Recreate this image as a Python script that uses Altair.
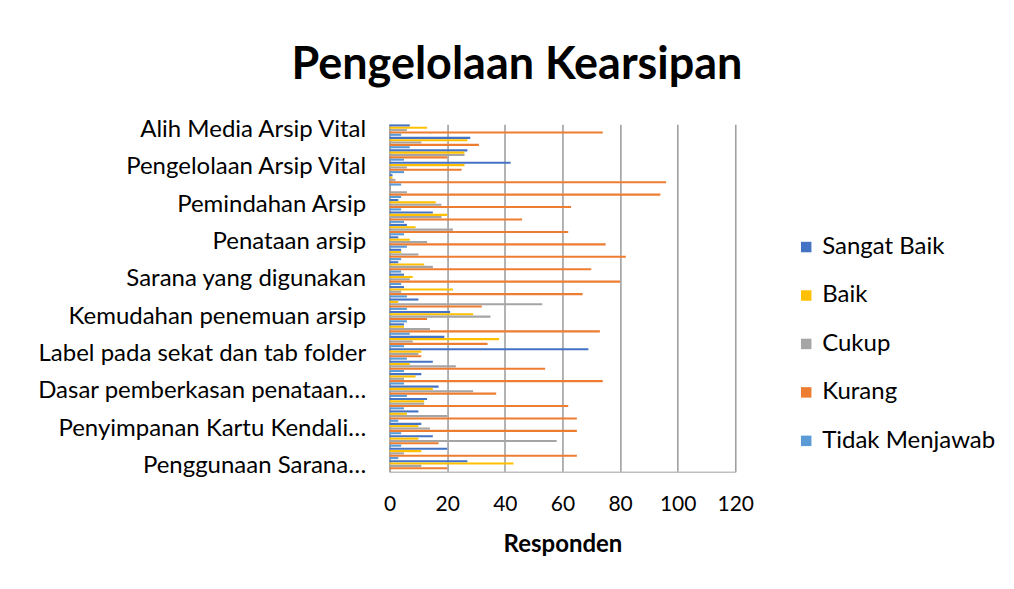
import json
import altair as alt
import pandas as pd

# categories top-to-bottom (only every third is labelled in the reference)
labels = [
    "Alih Media Arsip Vital", "", "",
    "Pengelolaan Arsip Vital", "", "",
    "Pemindahan Arsip", "", "",
    "Penataan arsip", "", "",
    "Sarana yang digunakan ", "", "",
    "Kemudahan penemuan arsip", "", "",
    "Label pada sekat dan tab folder", "", "",
    "Dasar pemberkasan penataan…", "", "",
    "Penyimpanan Kartu Kendali…", "", "",
    "Penggunaan Sarana…",
]

series = ["Sangat Baik", "Baik", "Cukup", "Kurang", "Tidak Menjawab"]
colors = ["#4472C4", "#FFC000", "#A5A5A5", "#ED7D31", "#5B9BD5"]

sangat_baik = [7, 28, 27, 42, 1, 0, 3, 15, 6, 3, 4, 3, 5, 5, 10, 21, 5, 19, 69, 15, 11, 17, 13, 10, 11, 15, 20, 27]
baik = [13, 27, 26, 26, 1, 0, 16, 20, 9, 7, 4, 12, 8, 22, 3, 29, 5, 38, 11, 7, 9, 15, 12, 6, 10, 10, 11, 43]
cukup = [6, 11, 26, 6, 2, 6, 18, 18, 22, 13, 10, 15, 7, 4, 53, 35, 14, 8, 10, 23, 5, 29, 12, 20, 14, 58, 5, 11]
kurang = [74, 31, 20, 25, 96, 94, 63, 46, 62, 75, 82, 70, 80, 67, 32, 13, 73, 34, 11, 54, 74, 37, 62, 65, 65, 17, 65, 20]
tidak_menjawab = [4, 7, 5, 5, 4, 4, 4, 5, 5, 6, 4, 4, 4, 6, 6, 6, 7, 5, 6, 5, 5, 6, 5, 3, 4, 4, 3, 0]

values = [sangat_baik, baik, cukup, kurang, tidak_menjawab]
rows = []
for s, vals in zip(series, values):
    for i, v in enumerate(vals):
        rows.append({"idx": i, "series": s, "value": v})
df = pd.DataFrame(rows)

label_expr = json.dumps(labels, ensure_ascii=False) + "[datum.value]"

FONT = "Lato"

chart = alt.Chart(df).mark_bar().encode(
    x=alt.X(
        "value:Q",
        scale=alt.Scale(domain=[0, 120], nice=False),
        axis=alt.Axis(
            values=[0, 20, 40, 60, 80, 100, 120],
            title="Responden",
            titleFontSize=24,
            titleFontWeight="bold",
            titlePadding=18,
            labelFontSize=21,
            labelPadding=22,
            labelFlush=False,
            ticks=False,
            grid=True,
            gridColor="#A0A0A0",
            gridWidth=1.6,
            domainColor="#BFBFBF",
            domainWidth=1.5,
            labelColor="#000000",
            titleColor="#000000",
        ),
    ),
    y=alt.Y(
        "idx:O",
        scale=alt.Scale(paddingInner=0.08, paddingOuter=0.02),
        axis=alt.Axis(
            title=None,
            labelExpr=label_expr,
            labelFontSize=24,
            labelPadding=24,
            labelLimit=500,
            minExtent=364,
            maxExtent=364,
            ticks=False,
            domainColor="#A0A0A0",
            domainWidth=1.5,
            labelColor="#000000",
        ),
    ),
    yOffset=alt.YOffset("series:N", sort=series, scale=alt.Scale(paddingInner=0.1)),
    color=alt.Color(
        "series:N",
        sort=series,
        scale=alt.Scale(domain=series, range=colors),
        legend=alt.Legend(
            title=None,
            orient="none",
            legendX=405,
            legendY=111,
            labelFontSize=24,
            labelLimit=400,
            symbolType="square",
            symbolSize=110,
            symbolStrokeWidth=0,
            rowPadding=24.5,
            labelColor="#000000",
        ),
    ),
).properties(
    width=346,
    height=348,
    title=alt.TitleParams(
        "Pengelolaan Kearsipan",
        fontSize=45,
        fontWeight="bold",
        font=FONT,
        anchor="middle",
        frame="bounds",
        offset=30,
        dx=6,
        color="#000000",
    ),
    padding={"left": 18, "top": 34, "right": 10, "bottom": 10},
).configure(font=FONT).configure_view(stroke=None)

chart.save("out.html", embed_options={"renderer": "svg", "actions": False})
